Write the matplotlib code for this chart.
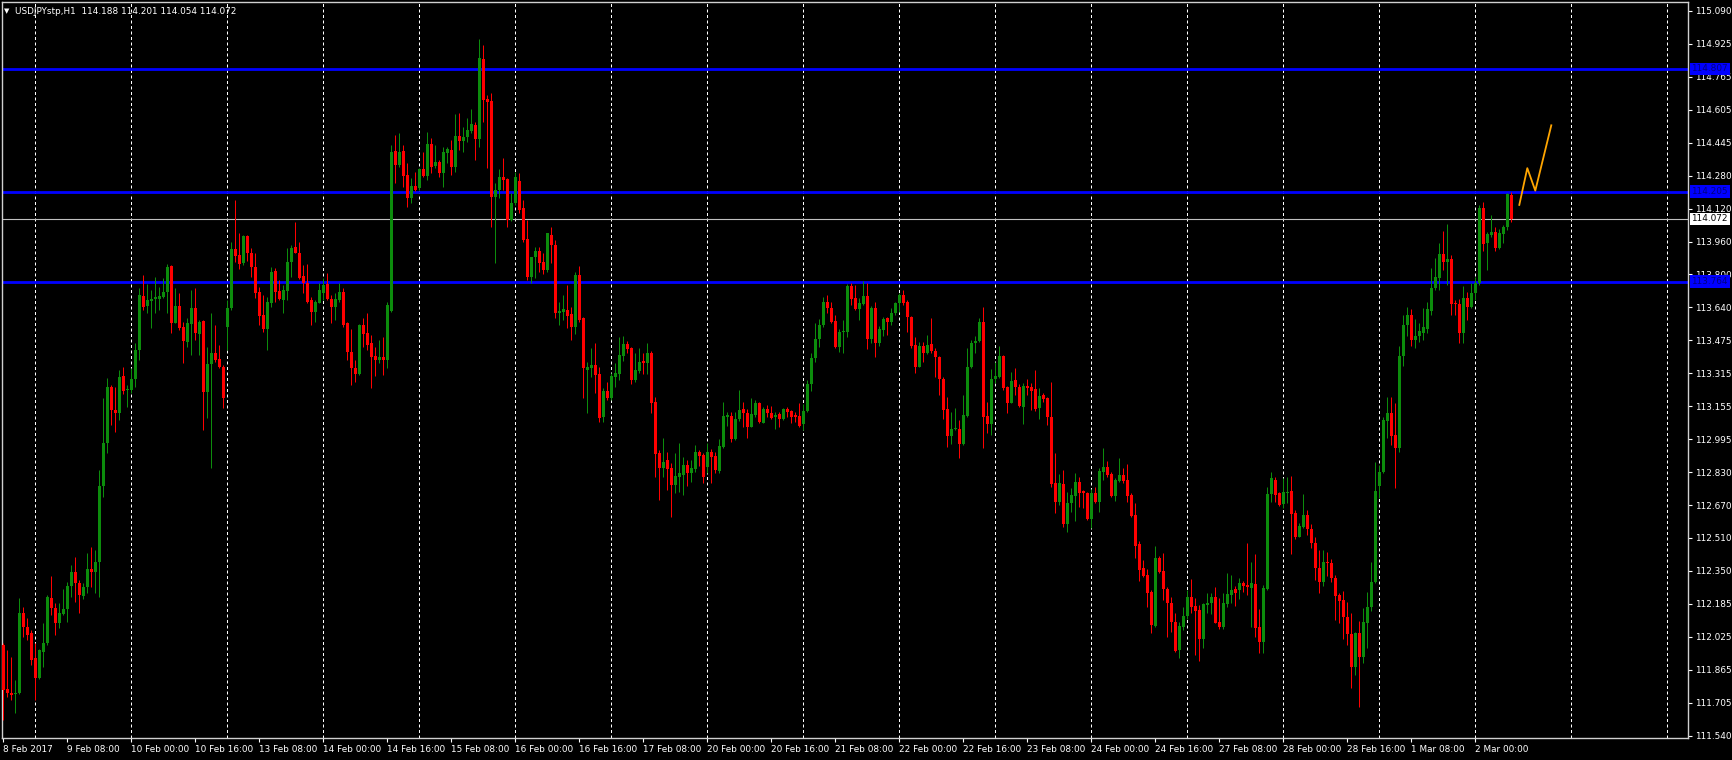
import numpy as np
import matplotlib
matplotlib.use("Agg")
import matplotlib.pyplot as plt
import matplotlib.transforms as mtransforms

# ---------------- data ----------------
opens = [111.984,111.767,111.750,111.744,111.747,112.139,112.074,112.041,111.919,111.821,
111.951,111.992,112.213,112.164,112.093,112.136,112.160,112.273,112.343,112.289,
112.224,112.266,112.356,112.343,112.392,112.763,112.975,113.246,113.135,113.122,
113.302,113.233,113.233,113.285,113.429,113.694,113.645,113.671,113.677,113.681,
113.687,113.713,113.841,113.563,113.645,113.543,113.470,113.557,113.633,113.508,
113.573,113.225,113.361,113.413,113.383,113.347,113.543,113.633,113.922,113.895,
113.857,113.988,113.906,113.837,113.713,113.601,113.530,113.661,113.818,113.720,
113.674,113.720,113.862,113.936,113.906,113.792,113.759,113.674,113.617,113.661,
113.710,113.753,113.677,113.642,113.674,113.715,113.560,113.421,113.343,113.312,
113.552,113.511,113.462,113.400,113.380,113.397,113.380,113.622,114.406,114.336,
114.406,114.287,114.172,114.233,114.221,114.314,114.282,114.439,114.331,114.352,
114.295,114.396,114.409,114.328,114.478,114.455,114.471,114.504,114.532,114.461,
114.853,114.657,114.651,114.180,114.213,114.275,114.265,114.066,114.148,114.259,
114.123,113.971,113.785,113.883,113.916,113.862,113.821,113.993,113.944,113.612,
113.617,113.625,113.606,113.540,113.797,113.584,113.331,113.343,113.356,113.312,
113.099,113.230,113.192,113.298,113.312,113.400,113.459,113.437,113.282,113.328,
113.377,113.364,113.413,113.176,112.926,112.849,112.890,112.849,112.768,112.809,
112.817,112.866,112.828,112.844,112.931,112.915,112.858,112.931,112.910,112.838,
112.955,113.102,113.106,112.991,113.089,113.138,113.122,113.054,113.111,113.168,
113.073,113.138,113.122,113.099,113.116,113.089,113.138,113.132,113.109,113.106,
113.067,113.132,113.263,113.388,113.481,113.552,113.666,113.633,113.573,113.442,
113.519,113.519,113.743,113.682,113.628,113.654,113.694,113.481,113.633,113.465,
113.527,113.584,113.568,113.609,113.661,113.699,113.666,113.592,113.454,113.347,
113.449,113.416,113.458,113.426,113.393,113.285,113.138,113.008,113.042,113.040,
112.969,113.106,113.344,113.462,113.475,113.568,113.106,113.067,113.285,113.298,
113.400,113.250,113.171,113.282,113.250,113.148,113.253,113.246,113.236,113.143,
113.209,113.192,113.099,112.776,112.686,112.773,112.577,112.678,112.714,112.784,
112.740,112.730,112.599,112.727,112.686,112.833,112.857,112.822,112.714,112.789,
112.817,112.792,112.719,112.621,112.479,112.359,112.327,112.245,112.077,112.408,
112.348,112.256,112.191,112.098,111.959,112.074,112.125,112.217,112.175,112.155,
112.011,112.180,112.188,112.220,112.098,112.070,112.185,112.229,112.256,112.253,
112.289,112.278,112.261,112.283,112.070,112.000,112.256,112.723,112.792,112.730,
112.674,112.727,112.740,112.629,112.514,112.563,112.621,112.550,112.485,112.359,
112.294,112.392,112.387,112.310,112.229,112.204,112.123,112.038,111.878,112.044,
111.927,112.093,112.172,112.294,112.763,112.833,113.083,113.122,113.013,112.947,
113.400,113.550,113.600,113.480,113.500,113.511,113.531,113.622,113.731,113.780,
113.900,113.862,113.873,113.661,113.655,113.514,113.682,113.638,113.707,113.759,
114.123,113.952,113.993,114.009,113.927,113.998,114.030,114.188]

closes = [111.763,111.747,111.737,111.750,112.139,112.074,112.033,111.910,111.821,111.959,
111.992,112.221,112.164,112.093,112.142,112.160,112.273,112.343,112.286,112.229,
112.266,112.355,112.343,112.392,112.763,112.975,113.249,113.135,113.119,113.298,
113.230,113.236,113.285,113.429,113.699,113.641,113.674,113.681,113.687,113.694,
113.713,113.837,113.563,113.645,113.535,113.475,113.560,113.633,113.514,113.568,
113.225,113.361,113.413,113.380,113.344,113.192,113.633,113.922,113.890,113.850,
113.988,113.903,113.834,113.710,113.596,113.530,113.666,113.813,113.715,113.677,
113.723,113.862,113.927,113.906,113.780,113.759,113.666,113.617,113.666,113.723,
113.748,113.677,113.638,113.677,113.715,113.552,113.421,113.339,113.312,113.552,
113.508,113.454,113.397,113.380,113.397,113.380,113.650,114.401,114.336,114.401,
114.282,114.172,114.233,114.213,114.314,114.282,114.439,114.328,114.350,114.295,
114.401,114.412,114.328,114.478,114.455,114.474,114.507,114.537,114.461,114.858,
114.654,114.646,114.177,114.213,114.278,114.262,114.066,114.151,114.278,114.115,
113.968,113.785,113.883,113.916,113.857,113.821,114.001,113.944,113.609,113.622,
113.628,113.596,113.540,113.797,113.576,113.339,113.347,113.356,113.307,113.094,
113.230,113.192,113.302,113.315,113.405,113.459,113.432,113.282,113.331,113.372,
113.364,113.413,113.171,112.920,112.849,112.882,112.844,112.768,112.812,112.825,
112.866,112.828,112.849,112.931,112.910,112.809,112.931,112.907,112.841,112.959,
113.106,113.111,112.991,113.089,113.135,113.119,113.054,113.116,113.168,113.078,
113.138,113.119,113.094,113.111,113.089,113.138,113.127,113.102,113.102,113.058,
113.132,113.263,113.388,113.481,113.552,113.666,113.633,113.568,113.442,113.519,
113.524,113.743,113.677,113.628,113.661,113.694,113.481,113.633,113.465,113.530,
113.579,113.568,113.612,113.661,113.699,113.661,113.589,113.449,113.347,113.449,
113.416,113.454,113.426,113.393,113.285,113.135,113.008,113.040,113.045,112.969,
113.111,113.344,113.465,113.475,113.568,113.102,113.067,113.285,113.302,113.400,
113.241,113.171,113.279,113.246,113.155,113.253,113.241,113.230,113.138,113.204,
113.191,113.099,112.773,112.686,112.776,112.577,112.681,112.719,112.784,112.730,
112.727,112.599,112.727,112.686,112.838,112.857,112.817,112.714,112.792,112.817,
112.789,112.714,112.616,112.469,112.351,112.322,112.240,112.082,112.408,112.343,
112.256,112.191,112.098,111.956,112.077,112.125,112.217,112.172,112.152,112.011,
112.185,112.191,112.217,112.093,112.070,112.188,112.234,112.253,112.240,112.286,
112.273,112.266,112.286,112.065,112.000,112.261,112.723,112.800,112.719,112.670,
112.735,112.735,112.626,112.514,112.567,112.621,112.550,112.485,112.359,112.294,
112.392,112.384,112.310,112.224,112.201,112.119,112.038,111.878,112.044,111.927,
112.098,112.172,112.294,112.740,112.833,113.086,113.122,113.008,112.947,113.400,
113.550,113.600,113.480,113.500,113.520,113.544,113.628,113.731,113.785,113.900,
113.862,113.873,113.655,113.655,113.514,113.682,113.638,113.710,113.759,114.123,
113.949,113.998,114.009,113.927,114.001,114.034,114.193,114.072]

highs = [111.992,111.959,111.927,111.812,112.213,112.172,112.114,112.057,111.992,111.962,
112.090,112.229,112.322,112.188,112.188,112.257,112.294,112.376,112.417,112.302,
112.286,112.433,112.466,112.449,112.841,113.192,113.290,113.258,113.249,113.331,
113.344,113.258,113.339,113.462,113.731,113.797,113.753,113.723,113.785,113.739,
113.780,113.850,113.846,113.731,113.707,113.568,113.584,113.723,113.731,113.576,
113.576,113.446,113.609,113.552,113.454,113.356,113.674,113.960,114.164,114.004,
113.993,113.993,113.927,113.903,113.739,113.699,113.691,113.837,113.829,113.772,
113.748,113.927,113.944,114.058,113.960,113.846,113.851,113.691,113.674,113.759,
113.780,113.808,113.699,113.707,113.756,113.731,113.568,113.530,113.380,113.557,
113.584,113.609,113.503,113.446,113.478,113.491,113.666,114.434,114.483,114.491,
114.434,114.347,114.270,114.303,114.319,114.401,114.499,114.466,114.434,114.360,
114.425,114.425,114.458,114.586,114.589,114.523,114.564,114.608,114.548,114.951,
114.924,114.679,114.690,114.246,114.314,114.368,114.270,114.200,114.303,114.298,
114.164,114.066,113.886,113.935,113.932,113.903,114.004,114.030,113.968,113.666,
113.699,113.748,113.638,113.813,113.841,113.592,113.372,113.437,113.462,113.347,
113.241,113.274,113.315,113.364,113.494,113.498,113.475,113.446,113.413,113.437,
113.413,113.462,113.426,113.201,112.939,112.996,112.931,112.874,112.923,112.972,
112.907,112.890,112.890,112.964,112.939,112.923,112.972,112.942,112.931,112.991,
113.176,113.127,113.127,113.127,113.233,113.176,113.138,113.192,113.184,113.176,
113.151,113.160,113.155,113.127,113.127,113.143,113.151,113.135,113.127,113.171,
113.165,113.282,113.416,113.560,113.579,113.687,113.699,113.666,113.601,113.530,
113.576,113.752,113.759,113.748,113.682,113.769,113.759,113.645,113.666,113.547,
113.592,113.592,113.633,113.666,113.707,113.723,113.674,113.596,113.494,113.470,
113.470,113.503,113.584,113.437,113.400,113.298,113.200,113.127,113.143,113.086,
113.209,113.437,113.478,113.498,113.584,113.638,113.176,113.334,113.372,113.449,
113.405,113.253,113.323,113.339,113.263,113.266,113.285,113.266,113.331,113.241,
113.220,113.200,113.274,112.923,112.822,112.841,112.735,112.751,112.825,112.809,
112.743,112.735,112.746,112.760,112.849,112.947,112.887,112.833,112.800,112.898,
112.849,112.871,112.727,112.678,112.495,112.400,112.355,112.253,112.469,112.420,
112.433,112.270,112.220,112.139,112.098,112.172,112.253,112.305,112.212,112.180,
112.191,112.237,112.240,112.269,112.212,112.237,112.335,112.327,112.273,112.310,
112.299,112.482,112.392,112.430,112.158,112.278,112.759,112.833,112.805,112.735,
112.800,112.805,112.812,112.645,112.580,112.723,112.645,112.577,112.514,112.449,
112.449,112.441,112.403,112.327,112.240,112.250,112.196,112.139,112.049,112.103,
112.163,112.245,112.392,112.882,112.866,113.102,113.200,113.200,113.168,113.450,
113.600,113.640,113.630,113.580,113.560,113.633,113.666,113.829,113.878,113.952,
114.014,114.047,113.895,113.674,113.677,113.743,113.715,113.756,113.789,114.140,
114.156,114.009,114.091,114.034,114.020,114.042,114.200,114.201]

lows = [111.616,111.731,111.714,111.649,111.745,112.025,112.008,111.886,111.714,111.815,
111.878,111.984,112.131,112.033,112.066,112.132,112.098,112.221,112.196,112.139,
112.208,112.237,112.270,112.240,112.221,112.711,112.923,113.062,113.029,113.086,
113.214,113.151,113.217,113.249,113.380,113.625,113.609,113.535,113.609,113.625,
113.682,113.609,113.511,113.560,113.527,113.364,113.446,113.405,113.478,113.405,
113.037,113.094,112.849,113.372,113.339,113.143,113.429,113.625,113.862,113.824,
113.846,113.867,113.788,113.682,113.552,113.519,113.429,113.642,113.666,113.674,
113.609,113.674,113.789,113.903,113.775,113.707,113.658,113.552,113.568,113.658,
113.674,113.674,113.560,113.576,113.666,113.544,113.380,113.258,113.274,113.307,
113.446,113.429,113.242,113.302,113.364,113.307,113.339,113.617,114.246,114.327,
114.230,114.132,114.148,114.210,114.213,114.279,114.262,114.295,114.319,114.279,
114.230,114.344,114.287,114.303,114.409,114.401,114.450,114.491,114.360,114.425,
114.548,114.319,114.034,113.857,114.172,114.213,114.034,114.063,114.140,114.099,
113.960,113.772,113.756,113.780,113.813,113.801,113.813,113.854,113.584,113.552,
113.576,113.535,113.478,113.508,113.568,113.192,113.119,113.298,113.217,113.078,
113.078,113.184,113.184,113.250,113.282,113.377,113.416,113.263,113.274,113.315,
113.312,113.312,113.119,112.809,112.694,112.809,112.743,112.613,112.727,112.735,
112.719,112.763,112.784,112.833,112.861,112.779,112.825,112.779,112.825,112.825,
112.947,113.057,112.980,112.988,113.083,113.054,112.996,113.050,113.099,113.073,
113.070,113.102,113.089,113.040,113.054,113.086,113.102,113.073,113.078,113.054,
113.037,113.127,113.230,113.372,113.445,113.543,113.609,113.560,113.437,113.421,
113.416,113.494,113.650,113.625,113.576,113.650,113.432,113.462,113.396,113.449,
113.498,113.503,113.552,113.601,113.617,113.650,113.519,113.437,113.315,113.344,
113.372,113.409,113.416,113.298,113.209,113.089,112.955,112.969,113.037,112.898,
112.964,113.102,113.339,113.413,113.470,112.947,113.021,113.013,113.266,113.290,
113.233,113.119,113.168,113.209,113.151,113.067,113.209,113.135,113.132,113.089,
113.176,113.062,112.760,112.632,112.670,112.560,112.539,112.637,112.593,112.662,
112.653,112.596,112.555,112.678,112.637,112.792,112.808,112.711,112.691,112.784,
112.776,112.686,112.609,112.408,112.299,112.319,112.172,112.041,112.074,112.335,
112.204,112.025,112.049,111.951,111.918,112.057,112.110,112.142,111.935,111.907,
111.967,112.139,112.136,112.090,112.060,112.060,112.172,112.188,112.175,112.207,
112.245,112.229,112.074,112.025,111.943,111.946,112.253,112.686,112.686,112.665,
112.653,112.681,112.430,112.501,112.511,112.555,112.523,112.457,112.302,112.240,
112.273,112.322,112.294,112.106,112.093,112.012,111.984,111.771,111.837,111.678,
111.894,111.967,112.152,112.286,112.702,112.828,112.996,112.964,112.751,112.930,
113.350,113.500,113.450,113.440,113.470,113.478,113.511,113.601,113.723,113.723,
113.821,113.748,113.601,113.601,113.465,113.465,113.576,113.633,113.674,113.748,
113.916,113.821,113.985,113.916,113.922,113.952,114.017,114.054]

date_labels = ["8 Feb 2017", "9 Feb 08:00", "10 Feb 00:00", "10 Feb 16:00", "13 Feb 08:00",
               "14 Feb 00:00", "14 Feb 16:00", "15 Feb 08:00", "16 Feb 00:00", "16 Feb 16:00",
               "17 Feb 08:00", "20 Feb 00:00", "20 Feb 16:00", "21 Feb 08:00", "22 Feb 00:00",
               "22 Feb 16:00", "23 Feb 08:00", "24 Feb 00:00", "24 Feb 16:00", "27 Feb 08:00",
               "28 Feb 00:00", "28 Feb 16:00", "1 Mar 08:00", "2 Mar 00:00"]
label_step = 16          # bars between date labels
grid_first, grid_step = 8, 24

price_labels = ["115.090", "114.925", "114.765", "114.605", "114.445", "114.280", "114.120",
                "113.960", "113.800", "113.640", "113.475", "113.315", "113.155", "112.995",
                "112.830", "112.670", "112.510", "112.350", "112.185", "112.025", "111.865",
                "111.705", "111.540"]
price_top, price_bottom = 115.090, 111.540

levels = [114.807, 114.205, 113.764]       # blue horizontal levels
level_labels = ["114.807", "114.205", "113.764"]
last_price = 114.072

proj_x = [379, 381, 383, 387]               # orange projection
proj_y = [114.14, 114.32, 114.21, 114.53]

header = "USDJPYstp,H1  114.188 114.201 114.054 114.072"

# ---------------- figure ----------------
W, H = 1732, 760
fig = plt.figure(figsize=(W / 100, H / 100), dpi=100, facecolor="black")
ax_l, ax_r, ax_t, ax_b = 1.5, 1688, 2, 738
ax = fig.add_axes([ax_l / W, (H - ax_b) / H, (ax_r - ax_l) / W, (ax_b - ax_t) / H])
ax.set_facecolor("black")

O = np.array(opens); C = np.array(closes)
Hh = np.maximum.reduce([np.array(highs), O, C]); Ll = np.minimum.reduce([np.array(lows), O, C])
x = np.arange(len(O))
up = C >= O
cols = np.where(up, "#0c8c0c", "#ff0000")

# grid
for gx in range(grid_first, 422, grid_step):
    ax.axvline(gx, color="white", lw=0.72, dashes=(3, 2.5), zorder=1)

ax.vlines(x, Ll, Hh, colors=cols, lw=0.72, zorder=3)
body_h = np.maximum(np.abs(C - O), 0.005)
ax.bar(x, body_h, bottom=np.minimum(O, C), width=0.7, color=cols, linewidth=0,
       zorder=4, antialiased=False)

for lv in levels:
    ax.axhline(lv, color="#0000ff", lw=2.0, zorder=2)
ax.axhline(last_price, color="#c0c0c0", lw=0.8, zorder=2)

ax.plot(proj_x, proj_y, color="#ffa500", lw=1.3, zorder=5)

ax.set_xlim((ax_l - 3.3) / 4, (ax_r - 3.3) / 4)
ppu = (735.6 - 11.0) / (price_top - price_bottom)
ax.set_ylim(price_top - (ax_b - 11.0) / ppu, price_top + (11.0 - ax_t) / ppu)

for s in ax.spines.values():
    s.set_color("#d0d0d0"); s.set_linewidth(1)

ypos = np.linspace(price_top, price_bottom, len(price_labels))
ax.yaxis.tick_right()
ax.set_yticks(ypos)
ax.set_yticklabels(price_labels)
ax.tick_params(axis="y", colors="white", labelsize=6.4, length=3, width=0.8, pad=2,
               direction="out")
xt = np.arange(len(date_labels)) * label_step
ax.set_xticks(xt)
ax.set_xticklabels(date_labels, ha="left")
ax.tick_params(axis="x", colors="white", labelsize=6.4, length=3, width=0.8, pad=2,
               direction="out")

trans = mtransforms.blended_transform_factory(ax.transAxes, ax.transData)
for lv, lab in zip(levels, level_labels):
    ax.text(1.002, lv, lab, transform=trans, ha="left", va="center", fontsize=6.4,
            color="#000080", bbox=dict(facecolor="#0000ff", edgecolor="none", pad=1.2),
            zorder=10, clip_on=False)
ax.text(1.002, last_price, f"{last_price:.3f}", transform=trans, ha="left", va="center",
        fontsize=6.4, color="black",
        bbox=dict(facecolor="white", edgecolor="none", pad=1.2), zorder=10, clip_on=False)

fig.text(4 / W, 1 - 11 / H, "\u25bc", color="white", fontsize=5, va="center", ha="left")
fig.text(15 / W, 1 - 11 / H, header, color="white", fontsize=6.4, va="center", ha="left")

fig.savefig("out.png", dpi=100, facecolor="black")
